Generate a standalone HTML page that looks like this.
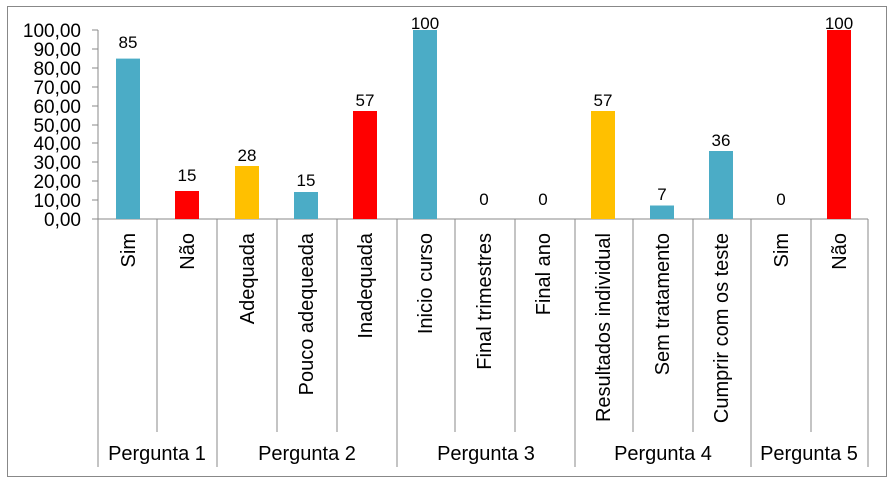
<!DOCTYPE html>
<html><head><style>body{margin:0;background:#fff}</style></head><body>
<svg width="893" height="483" xmlns="http://www.w3.org/2000/svg" font-family="Liberation Sans, sans-serif">
<rect x="7.5" y="6.5" width="879" height="470" fill="#fff" stroke="#888" stroke-width="1"/>
<g font-size="19" text-anchor="end" fill="#000">
<text x="81" y="37">100,00</text><text x="81" y="56">90,00</text><text x="81" y="75">80,00</text><text x="81" y="94">70,00</text><text x="81" y="113">60,00</text><text x="81" y="132">50,00</text><text x="81" y="150">40,00</text><text x="81" y="169">30,00</text><text x="81" y="188">20,00</text><text x="81" y="207">10,00</text><text x="81" y="226">0,00</text>
</g>
<g stroke="#888" stroke-width="1">
<line x1="98" y1="30" x2="98" y2="467"/>
<line x1="92" y1="30" x2="98" y2="30"/><line x1="92" y1="49" x2="98" y2="49"/><line x1="92" y1="68" x2="98" y2="68"/><line x1="92" y1="87" x2="98" y2="87"/><line x1="92" y1="106" x2="98" y2="106"/><line x1="92" y1="125" x2="98" y2="125"/><line x1="92" y1="143" x2="98" y2="143"/><line x1="92" y1="162" x2="98" y2="162"/><line x1="92" y1="181" x2="98" y2="181"/><line x1="92" y1="200" x2="98" y2="200"/>
<line x1="92" y1="219" x2="868" y2="219"/>
<line x1="157" y1="219" x2="157" y2="432"/><line x1="277" y1="219" x2="277" y2="432"/><line x1="337" y1="219" x2="337" y2="432"/><line x1="455" y1="219" x2="455" y2="432"/><line x1="515" y1="219" x2="515" y2="432"/><line x1="633" y1="219" x2="633" y2="432"/><line x1="693" y1="219" x2="693" y2="432"/><line x1="811" y1="219" x2="811" y2="432"/>
<line x1="217" y1="219" x2="217" y2="467"/><line x1="397" y1="219" x2="397" y2="467"/><line x1="575" y1="219" x2="575" y2="467"/><line x1="751" y1="219" x2="751" y2="467"/><line x1="868" y1="219" x2="868" y2="467"/>
</g>
<g>
<rect x="116" y="58.6" width="24" height="160.4" fill="#4bacc6"/>
<rect x="175" y="191" width="24" height="28" fill="#ff0000"/>
<rect x="235" y="166" width="24" height="53" fill="#ffc000"/>
<rect x="294" y="192" width="24" height="27" fill="#4bacc6"/>
<rect x="353" y="111" width="24" height="108" fill="#ff0000"/>
<rect x="413" y="30" width="24" height="189" fill="#4bacc6"/>
<rect x="591" y="111" width="24" height="108" fill="#ffc000"/>
<rect x="650" y="205.5" width="24" height="13.5" fill="#4bacc6"/>
<rect x="709" y="151" width="24" height="68" fill="#4bacc6"/>
<rect x="827" y="30" width="24" height="189" fill="#ff0000"/>
</g>
<g font-size="17" text-anchor="middle" fill="#000">
<text x="128" y="48">85</text><text x="187" y="181">15</text><text x="247" y="161">28</text><text x="306" y="186">15</text><text x="365" y="106">57</text><text x="425" y="29">100</text><text x="484" y="205">0</text><text x="543" y="205">0</text><text x="603" y="106">57</text><text x="662" y="200">7</text><text x="721" y="146">36</text><text x="781" y="205">0</text><text x="839" y="29">100</text>
</g>
<g font-size="20" text-anchor="end" fill="#000">
<text transform="translate(135,233) rotate(-90)">Sim</text>
<text transform="translate(194,233) rotate(-90)">Não</text>
<text transform="translate(254,233) rotate(-90)">Adequada</text>
<text transform="translate(313,233) rotate(-90)">Pouco adequeada</text>
<text transform="translate(372,233) rotate(-90)">Inadequada</text>
<text transform="translate(432,233) rotate(-90)">Inicio curso</text>
<text transform="translate(491,233) rotate(-90)">Final trimestres</text>
<text transform="translate(550,233) rotate(-90)">Final ano</text>
<text transform="translate(610,233) rotate(-90)">Resultados individual</text>
<text transform="translate(669,233) rotate(-90)">Sem tratamento</text>
<text transform="translate(728,233) rotate(-90)">Cumprir com os teste</text>
<text transform="translate(788,233) rotate(-90)">Sim</text>
<text transform="translate(846,233) rotate(-90)">Não</text>
</g>
<g font-size="20" text-anchor="middle" fill="#000">
<text x="157" y="460">Pergunta 1</text><text x="307" y="460">Pergunta 2</text><text x="486" y="460">Pergunta 3</text><text x="663" y="460">Pergunta 4</text><text x="809" y="460">Pergunta 5</text>
</g>
</svg>
</body></html>
